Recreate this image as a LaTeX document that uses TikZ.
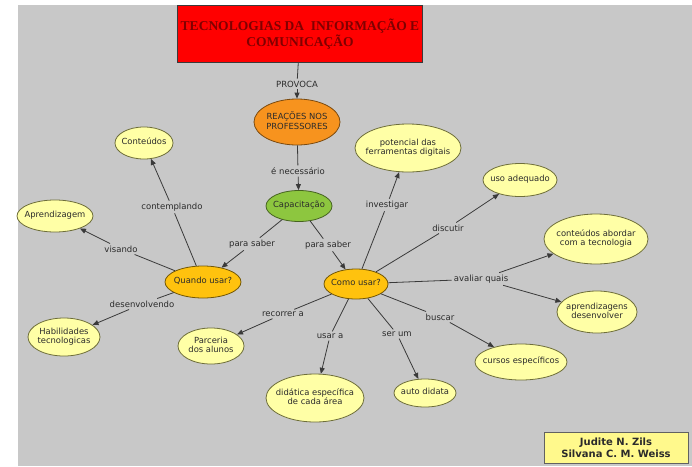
\documentclass[tikz,border=0pt]{standalone}
\usepackage{fontspec}
\setmainfont{DejaVu Sans}
\newfontfamily\titlefont{Liberation Serif}
\usetikzlibrary{shapes.geometric,arrows.meta}
\definecolor{bggrey}{HTML}{C8C8C8}
\definecolor{titlered}{HTML}{FF0000}
\definecolor{titletext}{HTML}{800000}
\definecolor{lightyel}{HTML}{FFFFA6}
\definecolor{yelborder}{HTML}{6E6E3A}
\definecolor{orangefill}{HTML}{F7931E}
\definecolor{greenfill}{HTML}{8DC63F}
\definecolor{goldfill}{HTML}{FFC20E}
\definecolor{linegrey}{HTML}{3A3A3A}
\definecolor{txtgrey}{HTML}{2B2B2B}
\newcommand\ctxt[1]{\makebox[0pt]{\begin{tabular}{@{}c@{}}#1\end{tabular}}}
\tikzset{
  concept/.style 2 args = {ellipse, draw = yelborder, fill = lightyel, line width = 0.8pt, text = txtgrey, inner sep = 0pt, minimum width = #1, minimum height = #2, font = \fontsize{8.4}{9.8}\selectfont},
  linklabel/.style = {inner sep = 2pt, text = txtgrey, font = \fontsize{8.5}{10}\selectfont},
  link/.style = {draw = linegrey, line width = 0.8pt},
  linkarrow/.style = {link, -{Triangle[length = 6pt, width = 5pt]}}
}
\begin{document}
\begin{tikzpicture}[x = 1pt, y = -1pt]
\useasboundingbox (0,0) rectangle (692,466);
\fill[bggrey] (18,5) rectangle (692,466);
% title and top chain
\node[draw = linegrey, fill = titlered, minimum width = 244pt, minimum height = 57pt, align = center, text = titletext, font = \titlefont\bfseries\fontsize{13.5}{16.5}\selectfont] (titulo) at (300,34) {TECNOLOGIAS DA\ \ INFORMAÇÃO E\\COMUNICAÇÃO};
\node[linklabel] (provoca) at (297,84) {PROVOCA};
\node[concept = {86pt}{46pt}, fill = orangefill, draw = orangefill!50!black] (reacoes) at (297,122) {\ctxt{REAÇÕES NOS\\PROFESSORES}};
\node[linklabel] (necessario) at (298,171) {é necessário};
\node[concept = {66pt}{31pt}, fill = greenfill, draw = greenfill!50!black] (capacit) at (299,206) {\ctxt{Capacitação}};
\node[linklabel] (saberA) at (252,244) {para saber};
\node[linklabel] (saberB) at (328,245) {para saber};
\node[concept = {76pt}{32pt}, fill = goldfill, draw = goldfill!45!black] (quando) at (203,282) {\ctxt{Quando usar?}};
\node[concept = {64pt}{30pt}, fill = goldfill, draw = goldfill!45!black] (como) at (356,284) {\ctxt{Como usar?}};
% left branch
\node[concept = {58pt}{32pt}] (conteudos) at (144,143) {\ctxt{Conteúdos}};
\node[linklabel] (contemp) at (172,207) {contemplando};
\node[concept = {76pt}{32pt}] (aprend) at (55,216) {\ctxt{Aprendizagem}};
\node[linklabel] (visando) at (121,249) {visando};
\node[concept = {72pt}{38pt}] (habil) at (64,337) {\ctxt{Habilidades\\tecnologicas}};
\node[linklabel] (desenv) at (142,304) {desenvolvendo};
% right branch
\node[concept = {106pt}{48pt}] (potencial) at (408,148) {\ctxt{potencial das\\ferramentas digitais}};
\node[linklabel] (investigar) at (387,205) {investigar};
\node[concept = {74pt}{33pt}] (uso) at (520,180) {\ctxt{uso adequado}};
\node[linklabel] (discutir) at (448,228) {discutir};
\node[concept = {104pt}{50pt}] (conteab) at (596,239) {\ctxt{conteúdos abordar\\com a tecnologia}};
\node[linklabel] (avaliar) at (481,279) {avaliar quais};
\node[concept = {80pt}{42pt}] (aprenddes) at (597,312) {\ctxt{aprendizagens\\desenvolver}};
\node[linklabel] (buscar) at (440,317) {buscar};
\node[concept = {92pt}{36pt}] (cursos) at (521,362) {\ctxt{cursos específicos}};
\node[linklabel] (serum) at (397,334) {ser um};
\node[concept = {62pt}{28pt}] (auto) at (425,393) {\ctxt{auto didata}};
\node[linklabel] (usara) at (330,336) {usar a};
\node[concept = {98pt}{48pt}] (didatica) at (315,398) {\ctxt{didática específica\\de cada área}};
\node[linklabel] (recorrer) at (283,314) {recorrer a};
\node[concept = {66pt}{36pt}] (parceria) at (211,346) {\ctxt{Parceria\\dos alunos}};
% authors
\node[draw = linegrey!80, fill = yellow!45, minimum width = 144pt, minimum height = 31pt, inner sep = 1pt, align = center, text = txtgrey, font = \bfseries\fontsize{10}{12.5}\selectfont] (autoras) at (616,448) {Judite N. Zils\\Silvana C. M. Weiss};
% links
\foreach \a/\b/\c in {titulo/provoca/reacoes, reacoes/necessario/capacit, capacit/saberA/quando, capacit/saberB/como, quando/contemp/conteudos, quando/visando/aprend, quando/desenv/habil, como/investigar/potencial, como/discutir/uso, como/avaliar/conteab, como/buscar/cursos, como/serum/auto, como/usara/didatica, como/recorrer/parceria}
{
  \draw[link] (\a) -- (\b);
  \draw[linkarrow] (\b) -- (\c);
}
\draw[linkarrow] (avaliar) -- (aprenddes);
\end{tikzpicture}
\end{document}
